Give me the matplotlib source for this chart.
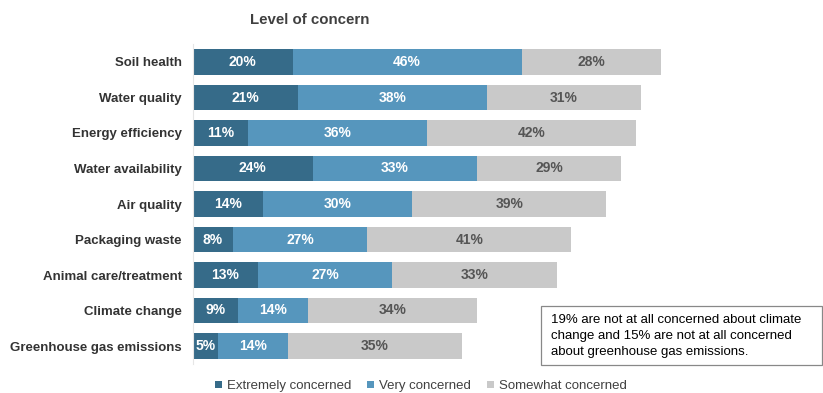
import matplotlib.pyplot as plt
import matplotlib.patches as mpatches
import numpy as np

plt.rcParams['font.family'] = ['Liberation Sans', 'DejaVu Sans']

categories = ["Soil health", "Water quality", "Energy efficiency", "Water availability",
              "Air quality", "Packaging waste", "Animal care/treatment", "Climate change",
              "Greenhouse gas emissions"]
extremely = [20, 21, 11, 24, 14, 8, 13, 9, 5]
very = [46, 38, 36, 33, 30, 27, 27, 14, 14]
somewhat = [28, 31, 42, 29, 39, 41, 33, 34, 35]
series_names = ["Extremely concerned", "Very concerned", "Somewhat concerned"]
colors = ["#366b89", "#5696bd", "#c9c9c9"]
text_colors = ["white", "white", "#555555"]


def main():
    fig = plt.figure(figsize=(8.23, 3.93), dpi=100)
    ax = fig.add_axes([193 / 823, 1 - 363.75 / 393, 498 / 823, 319.5 / 393])

    y = np.arange(len(categories))
    left = np.zeros(len(categories))
    for vals, name, col, tcol in zip([extremely, very, somewhat], series_names, colors, text_colors):
        vals = np.array(vals)
        bars = ax.barh(y, vals, left=left, height=0.73, color=col, label=name)
        for b, v in zip(bars, vals):
            ax.text(b.get_x() + b.get_width() / 2, b.get_y() + b.get_height() / 2,
                    f"{v}%", ha="center", va="center", color=tcol,
                    fontsize=10, fontweight="bold")
        left += vals

    ax.set_xlim(0, 100)
    ax.set_ylim(len(categories) - 0.5, -0.5)
    ax.set_yticks(y)
    ax.set_yticklabels(categories, fontsize=9.5, fontweight="bold", color="#333333")
    ax.tick_params(axis="y", length=0, pad=8)
    ax.set_xticks([])
    for s in ["top", "right", "bottom"]:
        ax.spines[s].set_visible(False)
    ax.spines["left"].set_color("#e6e6e6")

    fig.text(310 / 823, 1 - 20 / 393, "Level of concern", ha="center", va="center",
             fontsize=10.8, fontweight="bold", color="#404040")

    fig.legend(loc="center", bbox_to_anchor=(421 / 823, 1 - 386 / 393), ncol=3,
               frameon=False, fontsize=9.5, handlelength=0.5, handleheight=0.5,
               columnspacing=1.2, handletextpad=0.4, labelcolor="#404040")

    box = mpatches.Rectangle((541 / 823, 1 - 365 / 393), 281 / 823, 59 / 393,
                             transform=fig.transFigure, fc="white", ec="#888888", lw=0.9)
    fig.patches.append(box)
    fig.text(551 / 823, 1 - 336 / 393,
             "19% are not at all concerned about climate\nchange and 15% are not at all concerned\nabout greenhouse gas emissions.",
             ha="left", va="center", fontsize=9.5, color="black", linespacing=1.45)

    fig.savefig("out.png", dpi=100)


if __name__ == "__main__":
    main()
